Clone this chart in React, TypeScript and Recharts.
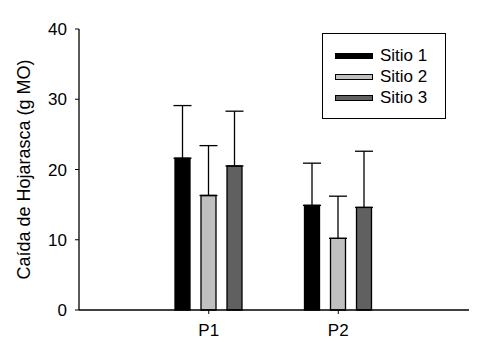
import { BarChart, Bar, XAxis, YAxis, ErrorBar, Legend } from 'recharts'

const CATEGORIES = ['P1', 'P2']
const SITIO1 = [21.6, 14.9]
const SITIO2 = [16.3, 10.2]
const SITIO3 = [20.5, 14.6]
const ERR1 = [7.5, 6.0]
const ERR2 = [7.1, 6.0]
const ERR3 = [7.8, 8.0]
const Y_TICKS = [0, 10, 20, 30, 40]

const SERIES = [
  { key: 's1', err: 'e1', label: 'Sitio 1', color: '#000000' },
  { key: 's2', err: 'e2', label: 'Sitio 2', color: '#c0c0c0' },
  { key: 's3', err: 'e3', label: 'Sitio 3', color: '#606060' },
]

const FONT = 'Arial, "Liberation Sans", sans-serif'

const data = CATEGORIES.map((c, i) => ({
  name: c,
  s1: SITIO1[i],
  s2: SITIO2[i],
  s3: SITIO3[i],
  // upper-only error bars
  e1: [0, ERR1[i]],
  e2: [0, ERR2[i]],
  e3: [0, ERR3[i]],
}))

function LegendBox() {
  return (
    <div
      style={{
        position: 'absolute', left: 322, top: 33, width: 124, height: 86,
        border: '1.3px solid #000', boxSizing: 'border-box', background: '#fff',
        fontFamily: FONT, fontSize: 17, color: '#000',
      }}
    >
      {SERIES.map((s, i) => (
        <div key={s.key} style={{ position: 'absolute', left: 12, top: 12 + i * 21, height: 20, display: 'flex', alignItems: 'center' }}>
          <div style={{ width: 38, height: 6, background: s.color, border: '1px solid #000', boxSizing: 'border-box' }} />
          <span style={{ marginLeft: 7, lineHeight: '20px' }}>{s.label}</span>
        </div>
      ))}
    </div>
  )
}

export default function App() {
  return (
    <div style={{ position: 'absolute', left: 0, top: 0, width: 485, height: 355, background: '#fff' }}>
      <BarChart
        width={485}
        height={355}
        data={data}
        margin={{ top: 29, right: 16, bottom: 0, left: 0 }}
        barSize={15}
        barGap={11}
      >
        <XAxis
          dataKey="name"
          padding={{ left: 65, right: 66 }}
          height={45}
          tickSize={4}
          tickMargin={10}
          axisLine={{ stroke: '#000', strokeWidth: 1.3 }}
          tickLine={{ stroke: '#000' }}
          tick={{ fill: '#000', fontSize: 17, fontFamily: FONT }}
        />
        <XAxis xAxisId="top" orientation="top" height={0} tick={false} tickLine={false}
          axisLine={{ stroke: '#000', strokeWidth: 1.3 }} />
        <YAxis
          domain={[0, 40]}
          ticks={Y_TICKS}
          width={79}
          tickSize={4}
          tickMargin={8}
          axisLine={{ stroke: '#000', strokeWidth: 1.3 }}
          tickLine={{ stroke: '#000' }}
          tick={{ fill: '#000', fontSize: 17, fontFamily: FONT }}
          label={{
            value: 'Caída de Hojarasca (g MO)',
            angle: -90,
            position: 'center',
            dx: -16,
            style: { fill: '#000', fontSize: 18, fontFamily: FONT },
          }}
        />
        <YAxis yAxisId="right" orientation="right" width={0} tick={false} tickLine={false}
          axisLine={{ stroke: '#000', strokeWidth: 1.3 }} />
        <Legend content={() => <LegendBox />} wrapperStyle={{ position: 'absolute', left: 0, top: 0, width: 0, height: 0 }} />
        {SERIES.map(s => (
          <Bar key={s.key} dataKey={s.key} name={s.label} fill={s.color} stroke="#000" strokeWidth={1.3} isAnimationActive={false}>
            <ErrorBar dataKey={s.err} width={9} stroke="#000" strokeWidth={1.3} />
          </Bar>
        ))}
      </BarChart>
    </div>
  )
}
